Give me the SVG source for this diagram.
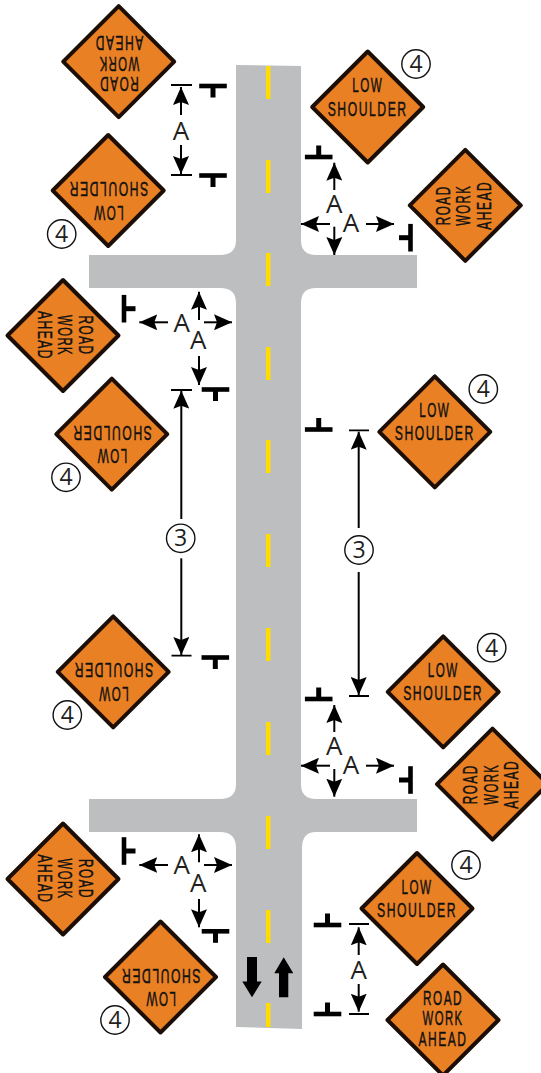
<svg xmlns="http://www.w3.org/2000/svg" width="541" height="1073" viewBox="0 0 541 1073">
<style>
.sg{fill:#e98024;stroke:#1c0e05;stroke-width:4;stroke-linejoin:round}
.st{font-family:"Liberation Sans",Arial,sans-serif;font-size:20px;fill:#111;stroke:#111;stroke-width:.45;text-anchor:middle;letter-spacing:2.500px}
.d{fill:#231f20;font-family:"Open Sans","DejaVu Sans",sans-serif;font-size:26px;text-anchor:middle}
.n{fill:#231f20;font-family:"Open Sans","DejaVu Sans",sans-serif;font-size:23px;text-anchor:middle}
.c{fill:#fff;stroke:#111;stroke-width:1.4}
.ln{stroke:#000;stroke-width:2;fill:none}
.tb{stroke:#000;stroke-width:1.8;fill:none}
.p{stroke:#000;stroke-width:4.600;fill:none}
.y{fill:#ffdb00}
</style>
<defs>
<marker id="a" viewBox="0 0 19 16" refX="18" refY="8" markerWidth="19" markerHeight="16" markerUnits="userSpaceOnUse" orient="auto"><path d="M0 0L18 8L0 16L3 8Z" fill="#000"/></marker>
<g id="dia"><path class="sg" d="M0-55.500L55.500 0L0 55.500L-55.500 0Z"/></g>
<g id="post"><path class="p" d="M-13.800 0H13.800"/><path d="M-2.500 0V-11.500H2.500V0Z"/></g>
<g id="ls"><use href="#dia"/><text class="st" y="-15" textLength="31" lengthAdjust="spacingAndGlyphs">LOW</text><text class="st" y="8.500" textLength="80" lengthAdjust="spacingAndGlyphs">SHOULDER</text></g>
<g id="rw"><use href="#dia"/><text class="st" y="-15.500" textLength="40" lengthAdjust="spacingAndGlyphs">ROAD</text><text class="st" y="5" textLength="41" lengthAdjust="spacingAndGlyphs">WORK</text><text class="st" y="25.500" textLength="49" lengthAdjust="spacingAndGlyphs">AHEAD</text></g>
<g id="c4"><circle class="c" r="14.200"/><text class="n" y="8">4</text></g>
<g id="c3"><circle class="c" r="14.200"/><text class="n" y="8">3</text></g>
</defs>
<g id="road">
<path fill="#bcbec0" d="M236 65L301 66V240Q301 255 316 255H417V288H316Q301 288 301 303V784Q301 799 316 799H417V832H316Q302 832 302 848V1029L236 1027V848Q236 832 220 832H89V799H220Q236 799 236 784V303Q236 288 220 288H89V255H220Q236 255 236 240Z"/>
<g class="y"><rect x="266" y="66" width="4.500" height="33"/><rect x="266" y="160" width="4.500" height="33"/><rect x="266" y="253" width="4.500" height="33"/><rect x="266" y="347" width="4.500" height="33"/><rect x="266" y="440" width="4.500" height="33"/><rect x="266" y="534" width="4.500" height="33"/><rect x="266" y="628" width="4.500" height="33"/><rect x="266" y="722" width="4.500" height="33"/><rect x="266" y="816" width="4.500" height="33"/><rect x="266" y="910" width="4.500" height="33"/><rect x="266" y="1003" width="4.500" height="24"/></g>
<path d="M247 957H257V981.500H261.700L252 997.300L242.300 981.500H247Z"/>
<path d="M279 997.300H288.300V973.300H293.300L283.700 957.300L274.300 973.300H279Z"/>
</g>
<g id="sign-1"><use href="#rw" transform="translate(118.700,61.700) rotate(180)"/></g>
<g id="sign-2"><use href="#ls" transform="translate(108.200,190.500) rotate(180)"/></g>
<g id="sign-3"><use href="#ls" transform="translate(367.700,107)"/></g>
<g id="sign-4"><use href="#rw" transform="translate(465.300,205.300) rotate(-90)"/></g>
<g id="sign-5"><use href="#rw" transform="translate(63,335.500) rotate(90)"/></g>
<g id="sign-6"><use href="#ls" transform="translate(111.800,434.200) rotate(180)"/></g>
<g id="sign-7"><use href="#ls" transform="translate(434.800,431.800)"/></g>
<g id="sign-8"><use href="#ls" transform="translate(113.200,671.800) rotate(180)"/></g>
<g id="sign-9"><use href="#ls" transform="translate(443.200,691.800)"/></g>
<g id="sign-10"><use href="#rw" transform="translate(492.500,784.200) rotate(-90)"/></g>
<g id="sign-11"><use href="#rw" transform="translate(63,879) rotate(90)"/></g>
<g id="sign-12"><use href="#ls" transform="translate(160.500,977) rotate(180)"/></g>
<g id="sign-13"><use href="#ls" transform="translate(417,908.500)"/></g>
<g id="sign-14"><use href="#rw" transform="translate(443,1020)"/></g>
<g id="posts">
<use href="#post" transform="translate(213,86) rotate(180)"/>
<use href="#post" transform="translate(213,175.500) rotate(180)"/>
<use href="#post" transform="translate(318.700,157)"/>
<use href="#post" transform="translate(410.500,237.700) rotate(-90)"/>
<use href="#post" transform="translate(124,308.700) rotate(90)"/>
<use href="#post" transform="translate(215.500,389.500) rotate(180)"/>
<use href="#post" transform="translate(318.700,429.500)"/>
<use href="#post" transform="translate(215.300,657.500) rotate(180)"/>
<use href="#post" transform="translate(318.700,699)"/>
<use href="#post" transform="translate(410.500,780) rotate(-90)"/>
<use href="#post" transform="translate(124,851) rotate(90)"/>
<use href="#post" transform="translate(215.500,931.300) rotate(180)"/>
<use href="#post" transform="translate(327.500,925)"/>
<use href="#post" transform="translate(327.500,1014)"/>
</g>
<g id="connectors">
<path class="tb" d="M171 85H192M171 175H192M171 390H192M171.500 655.700H191.500M349 430.300H369M349 696H369M349 924H369M349 1014H369"/>
<g class="ln">
<path d="M181 115V87" marker-end="url(#a)"/><path d="M181 145V174" marker-end="url(#a)"/>
<path d="M334.300 190V162.700" marker-end="url(#a)"/><path d="M334.300 226.700V255" marker-end="url(#a)"/><path d="M330 224H301" marker-end="url(#a)"/><path d="M366 224H394" marker-end="url(#a)"/>
<path d="M168 322.300H139.300" marker-end="url(#a)"/><path d="M204 322.300H232" marker-end="url(#a)"/><path d="M199 320V291.700" marker-end="url(#a)"/><path d="M199 356V385" marker-end="url(#a)"/>
<path d="M181.300 519V390.700" marker-end="url(#a)"/><path d="M181.300 558.300V655" marker-end="url(#a)"/>
<path d="M358.700 528V431.700" marker-end="url(#a)"/><path d="M358.700 572V695" marker-end="url(#a)"/>
<path d="M334.300 732V705" marker-end="url(#a)"/><path d="M334.300 769V796.700" marker-end="url(#a)"/><path d="M330 765.700H301" marker-end="url(#a)"/><path d="M366 765.700H394" marker-end="url(#a)"/>
<path d="M168 865H139.300" marker-end="url(#a)"/><path d="M204 865H232" marker-end="url(#a)"/><path d="M199 862.300V834.300" marker-end="url(#a)"/><path d="M199 899V927.300" marker-end="url(#a)"/>
<path d="M358.700 955V927.300" marker-end="url(#a)"/><path d="M358.700 984V1011.700" marker-end="url(#a)"/>
</g>
</g>
<g id="labels">
<text class="d" x="181" y="140">A</text>
<text class="d" x="334.300" y="213.300">A</text><text class="d" x="351" y="231.700">A</text>
<text class="d" x="181.700" y="331.700">A</text><text class="d" x="198.300" y="349.300">A</text>
<text class="d" x="334.300" y="755">A</text><text class="d" x="351" y="774.300">A</text>
<text class="d" x="181.700" y="874">A</text><text class="d" x="198.300" y="892.300">A</text>
<text class="d" x="358.700" y="979">A</text>
<use href="#c4" x="61.700" y="234"/><use href="#c4" x="416" y="64"/><use href="#c4" x="483.300" y="389"/><use href="#c4" x="66" y="477.300"/><use href="#c3" x="180.700" y="538.300"/><use href="#c3" x="359" y="550"/><use href="#c4" x="67.300" y="715"/><use href="#c4" x="491.700" y="647.700"/><use href="#c4" x="115" y="1020"/><use href="#c4" x="466" y="865"/>
</g>
</svg>
